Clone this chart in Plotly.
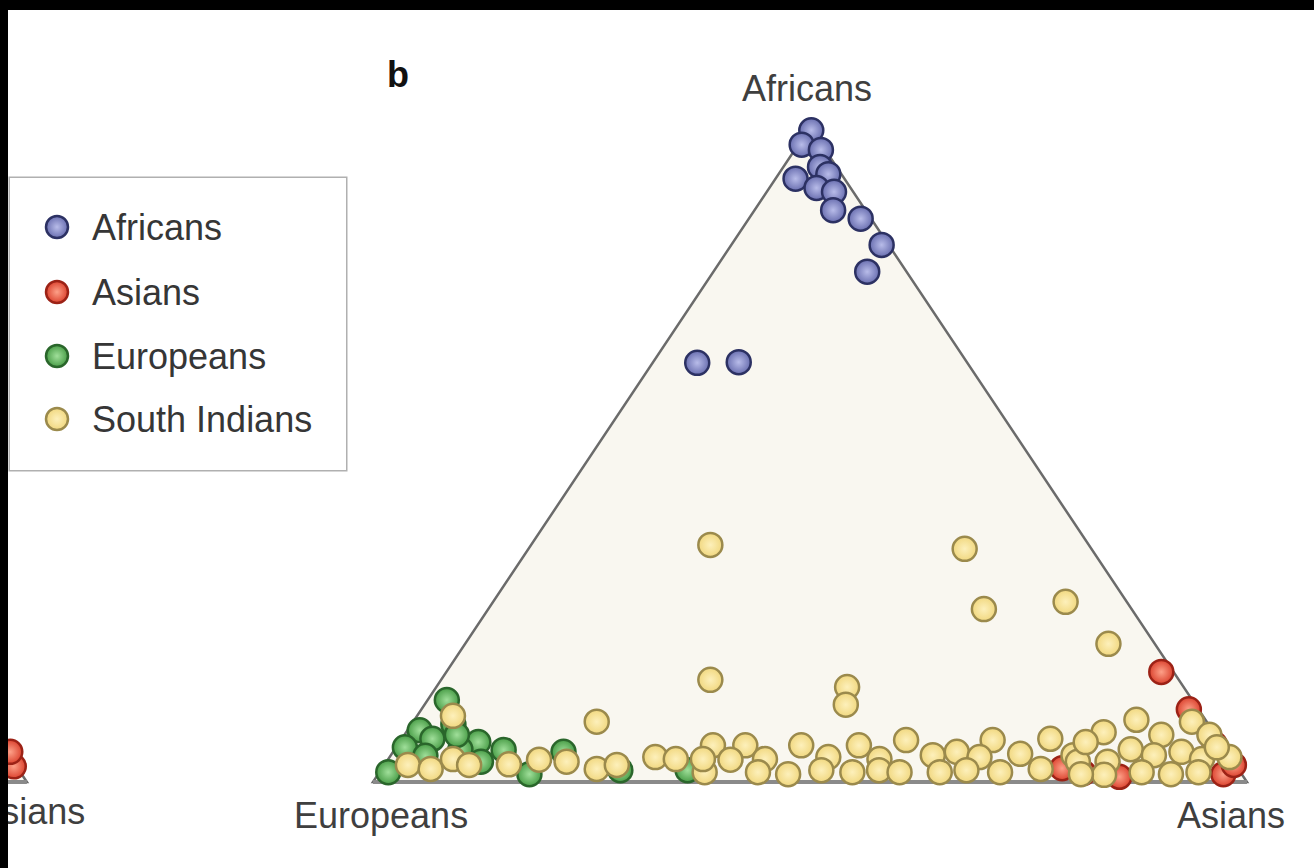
import plotly.graph_objects as go

# Ancestry shares per individual: African share and Asian share
# (the European share is the remainder, 1 - African - Asian).
groups = ["Africans", "Asians", "Europeans", "South Indians"]

afr_africans = [0.995, 0.973, 0.965, 0.939, 0.928, 0.921, 0.907, 0.901, 0.873,
                0.860, 0.820, 0.779, 0.640, 0.641]
asn_africans = [0.004, 0.004, 0.030, 0.042, 0.057, 0.023, 0.054, 0.077, 0.090,
                0.128, 0.172, 0.176, 0.051, 0.098]

afr_asians = [0.168, 0.111, 0.021, 0.014, 0.008, 0.012, 0.026, 0.058]
asn_asians = [0.818, 0.878, 0.778, 0.806, 0.850, 0.967, 0.972, 0.934]

afr_europeans = [0.125, 0.079, 0.066, 0.053, 0.015, 0.061, 0.031, 0.049, 0.012,
                 0.046, 0.018, 0.018, 0.050, 0.088, 0.040, 0.072]
asn_europeans = [0.022, 0.014, 0.035, 0.010, 0.010, 0.090, 0.108, 0.125, 0.173,
                 0.195, 0.274, 0.351, 0.075, 0.048, 0.040, 0.060]

afr_south_indians = [
    0.362, 0.356, 0.264, 0.275, 0.211, 0.156, 0.145, 0.118, 0.092, 0.101,
    0.026, 0.020, 0.035, 0.026, 0.027, 0.034, 0.031, 0.020, 0.026, 0.038,
    0.035, 0.056, 0.015,
    0.056, 0.056, 0.056, 0.064, 0.064, 0.066, 0.035, 0.034, 0.035, 0.038,
    0.035, 0.041, 0.046, 0.038, 0.043, 0.012, 0.018, 0.015, 0.018, 0.015,
    0.018, 0.020, 0.041, 0.015, 0.015, 0.015,
    0.076, 0.095, 0.072, 0.092, 0.072, 0.038, 0.031, 0.031, 0.050, 0.041,
    0.046, 0.035, 0.011, 0.015, 0.012, 0.015, 0.012, 0.061, 0.053]
asn_south_indians = [
    0.205, 0.499, 0.567, 0.655, 0.736, 0.308, 0.470, 0.482, 0.210, 0.041,
    0.027, 0.056, 0.074, 0.097, 0.142, 0.173, 0.206, 0.246, 0.266, 0.304,
    0.329, 0.361, 0.372,
    0.398, 0.462, 0.528, 0.578, 0.677, 0.742, 0.360, 0.392, 0.431, 0.502,
    0.562, 0.620, 0.645, 0.675, 0.719, 0.469, 0.504, 0.541, 0.570, 0.595,
    0.670, 0.754, 0.781, 0.433, 0.641, 0.710,
    0.798, 0.826, 0.866, 0.891, 0.921, 0.961, 0.791, 0.825, 0.842, 0.873,
    0.902, 0.931, 0.831, 0.872, 0.907, 0.937, 0.804, 0.785, 0.939]

# Neighbouring panel (a), only its Asian corner is in view
afr_panel_a_asians = [0.024, 0.046]
asn_panel_a_asians = [0.973, 0.958]

series = {
    "Africans": (afr_africans, asn_africans),
    "Asians": (afr_asians, asn_asians),
    "Europeans": (afr_europeans, asn_europeans),
    "South Indians": (afr_south_indians, asn_south_indians),
}

styles = {
    "Africans": dict(color="#6a6fb0", center="#b8bce9", line="#2c3163"),
    "Asians": dict(color="#dc4430", center="#fda088", line="#9c2216"),
    "Europeans": dict(color="#4a9e48", center="#a0df9a", line="#2a662b"),
    "South Indians": dict(color="#f1d880", center="#fdf0bb", line="#9b8a4c"),
}

FONT = "Liberation Sans, Arial, Helvetica, sans-serif"
TEXT = "#3f3f3f"
MSIZE = 24
PANEL_A_SHIFT = -1.396


def ternary_xy(afr, asn, shift=0.0):
    """Barycentric -> cartesian: Europeans at (0,0), Asians at (1,0), Africans at (0.5,1)."""
    xs = [s + a / 2 + shift for a, s in zip(afr, asn)]
    ys = list(afr)
    return xs, ys


def marker(name, size=MSIZE):
    st = styles[name]
    return dict(size=size, color=st["color"],
                gradient=dict(type="radial", color=st["center"]),
                line=dict(color=st["line"], width=2.5))


fig = go.Figure()

for name in groups:
    afr, asn = series[name]
    x, y = ternary_xy(afr, asn)
    eur = [1 - a - s for a, s in zip(afr, asn)]
    fig.add_trace(go.Scatter(
        x=x, y=y, mode="markers", name=name, showlegend=False,
        marker=marker(name),
        customdata=list(zip(afr, eur, asn)),
        hovertemplate="African %{customdata[0]:.2f}<br>European %{customdata[1]:.2f}"
                      "<br>Asian %{customdata[2]:.2f}<extra>" + name + "</extra>",
    ))

# Edge of panel a (cut by the left border of the figure)
xa, ya = ternary_xy(afr_panel_a_asians, asn_panel_a_asians, PANEL_A_SHIFT)
fig.add_trace(go.Scatter(x=xa, y=ya, mode="markers", showlegend=False,
                         hoverinfo="skip", marker=marker("Asians")))
fig.add_trace(go.Scatter(x=[PANEL_A_SHIFT + 1.005], y=[-0.0504], mode="text",
                         text=["Asians"], showlegend=False, hoverinfo="skip",
                         textfont=dict(family=FONT, size=36, color=TEXT)))

# Legend drawn on its own small axes
leg_rows = [49, 114, 178, 241]
for name, row in zip(groups, leg_rows):
    fig.add_trace(go.Scatter(x=[47], y=[row], mode="markers", xaxis="x2", yaxis="y2",
                             showlegend=False, hoverinfo="skip",
                             marker=marker(name, 22)))
    fig.add_annotation(x=80, y=row, xref="x2", yref="y2", text=name, showarrow=False,
                       xanchor="left", yanchor="middle",
                       font=dict(family=FONT, size=36, color="#363636"))

shapes = [
    # panel b triangle
    dict(type="path", xref="x", yref="y", path="M 0,0 L 1,0 L 0.5,1 Z",
         fillcolor="#f9f7f0", line=dict(color="#6b6b6b", width=2.5), layer="below"),
    dict(type="line", xref="x", yref="y", x0=0, y0=0, x1=1, y1=0,
         line=dict(color="#8a8a8a", width=4), layer="below"),
    # panel a triangle
    dict(type="path", xref="x", yref="y",
         path=f"M {PANEL_A_SHIFT},0 L {PANEL_A_SHIFT + 1},0 L {PANEL_A_SHIFT + 0.5},1 Z",
         fillcolor="#f9f7f0", line=dict(color="#6b6b6b", width=2.5), layer="below"),
    dict(type="line", xref="x", yref="y", x0=PANEL_A_SHIFT, y0=0, x1=PANEL_A_SHIFT + 1, y1=0,
         line=dict(color="#8a8a8a", width=4), layer="below"),
    # legend frame
    dict(type="rect", xref="x2 domain", yref="y2 domain", x0=0, x1=1, y0=0, y1=1,
         fillcolor="#ffffff", line=dict(color="#b0b0b0", width=3), layer="below"),
]

annotations_main = [
    dict(x=0.4966, y=1.0595, text="Africans"),
    dict(x=0.0092, y=-0.0504, text="Europeans"),
    dict(x=0.9817, y=-0.0504, text="Asians"),
]
for a in annotations_main:
    fig.add_annotation(x=a["x"], y=a["y"], xref="x", yref="y", text=a["text"],
                       showarrow=False, xanchor="center", yanchor="middle",
                       font=dict(family=FONT, size=36, color=TEXT))
fig.add_annotation(x=0.0286, y=1.0794, xref="x", yref="y", text="<b>b</b>",
                   showarrow=False, xanchor="center", yanchor="middle",
                   font=dict(family=FONT, size=36, color="#111111"))

W, H = 1314, 868
ML, MT = 8, 10
fig.update_layout(
    width=W, height=H,
    margin=dict(l=ML, r=0, t=MT, b=0, pad=0),
    paper_bgcolor="#000000",
    plot_bgcolor="#ffffff",
    showlegend=False,
    shapes=shapes,
    xaxis=dict(range=[-0.4176, 1.0767], visible=False, fixedrange=True),
    yaxis=dict(range=[-0.1313, 1.1786], visible=False, fixedrange=True),
    xaxis2=dict(domain=[(10 - ML) / (W - ML), (346 - ML) / (W - ML)], range=[0, 336],
                anchor="y2", visible=False, fixedrange=True),
    yaxis2=dict(domain=[(H - 470) / (H - MT), (H - 178) / (H - MT)], range=[292, 0],
                anchor="x2", visible=False, fixedrange=True),
)

fig.write_html("out.html")
